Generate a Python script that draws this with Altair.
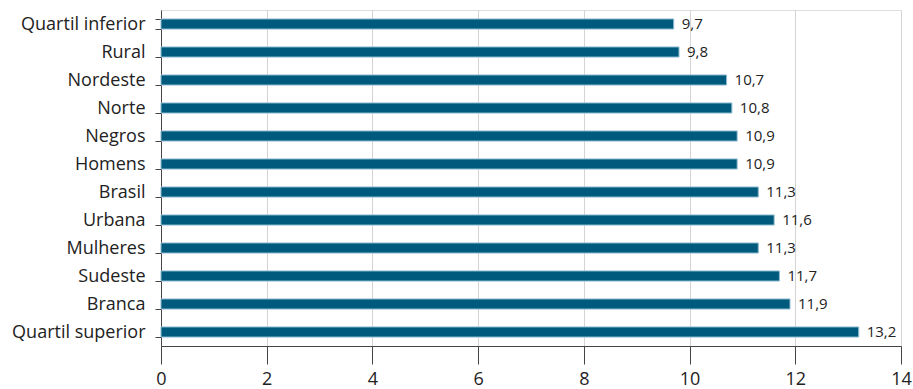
import altair as alt
import pandas as pd

categorias = ["Quartil inferior", "Rural", "Nordeste", "Norte", "Negros", "Homens",
              "Brasil", "Urbana", "Mulheres", "Sudeste", "Branca", "Quartil superior"]
valores = [9.7, 9.8, 10.7, 10.8, 10.9, 10.9, 11.3, 11.6, 11.3, 11.7, 11.9, 13.2]
rotulos = ["9,7", "9,8", "10,7", "10,8", "10,9", "10,9", "11,3", "11,6", "11,3", "11,7", "11,9", "13,2"]
ticks_x = [0, 2, 4, 6, 8, 10, 12, 14]

df = pd.DataFrame({"cat": categorias, "val": valores, "lab": rotulos})

FONT = "Open Sans"
x = alt.X("val:Q", scale=alt.Scale(domain=[0, 14], nice=False),
          axis=alt.Axis(values=ticks_x, title=None, grid=True, gridColor="#d4d4d4",
                        domainColor="#444444", tickColor="#444444", tickSize=18,
                        labelFontSize=18, labelColor="#222222", labelFont=FONT,
                        labelPadding=6, labelFlush=False))
y = alt.Y("cat:N", sort=categorias, scale=alt.Scale(paddingInner=0.64, paddingOuter=0.32),
          axis=alt.Axis(title=None, tickBand="extent", tickSize=6, tickColor="#444444",
                        domainColor="#444444", labelFontSize=18, labelColor="#222222",
                        labelFont=FONT, labelPadding=10))

bars = alt.Chart(df).mark_bar(color="#005a7d", stroke="#8fbcd2", strokeWidth=1).encode(x=x, y=y)
text = alt.Chart(df).mark_text(align="left", baseline="middle", dx=8, fontSize=15,
                               font=FONT, color="#222222").encode(
    x="val:Q", y=alt.Y("cat:N", sort=categorias), text="lab:N")

chart = (bars + text).properties(
    width=740, height=336,
    padding={"left": 161, "top": 10, "right": 12, "bottom": 43},
    autosize=alt.AutoSizeParams(type="none"),
).configure_view(stroke="#d4d4d4").configure(background="white")

chart.save("out.html", embed_options={"renderer": "svg", "actions": False})
